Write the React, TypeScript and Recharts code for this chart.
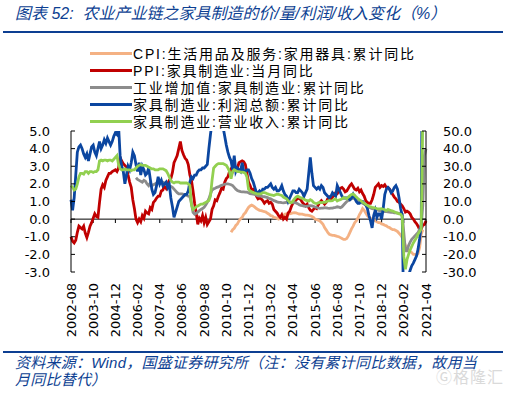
import React from 'react';
import { LineChart, Line, XAxis, YAxis, ReferenceLine } from 'recharts';

// months run from 2002-08 to 2021-04
const START_YEAR = 2002;
const START_MONTH = 8;
const MONTH_COUNT = 225;

const months: string[] = Array.from({ length: MONTH_COUNT }, (_, i) => {
  const t = START_MONTH - 1 + i;
  return `${START_YEAR + Math.floor(t / 12)}-${String((t % 12) + 1).padStart(2, '0')}`;
});

const tickLabels = [
  '2002-08', '2003-10', '2004-12', '2006-02', '2007-04', '2008-06', '2009-08', '2010-10', '2011-12',
  '2013-02', '2014-04', '2015-06', '2016-08', '2017-10', '2018-12', '2020-02', '2021-04',
];

const leftTicks = [-3, -2, -1, 0, 1, 2, 3, 4, 5];
const rightTicks = [-30, -20, -10, 0, 10, 20, 30, 40, 50];

// PPI: 家具制造业: 当月同比 (left axis), from 2002-08
const ppi = [
  -1.0, -1.25, -1.35, -1.2, -0.75,
  -0.4, -0.48, -0.55, -0.4, -0.8, -1.05, -0.75, -0.4, -0.2, 0.05, 0.3, 0.15,
  0.1, 0.95, 1.7, 1.95, 1.8, 2.2, 2.4, 2.6, 2.6, 2.7, 2.75, 2.8,
  2.7, 2.9, 3.5, 3.3, 3.15, 3.05, 2.95, 2.5, 2.1, 1.8, 1.1, 0.6,
  0.0, -0.2, 0.0, -0.15, 0.2, 0.05, 0.45, 0.35, 0.3, 0.65, 0.55, 0.95,
  1.05, 1.2, 1.3, 1.3, 1.6, 1.65, 1.9, 1.75, 2.0, 2.2, 2.3, 2.65,
  3.2, 3.4, 3.6, 4.0, 4.4, 3.9, 3.65, 3.45, 3.35, 3.1, 2.5, 2.2,
  1.6, 0.9, 0.35, -0.3, 0.05, -0.1, 0.2, -0.2, 0.1, -0.3, -0.15, 0.0,
  0.55, 0.75, 1.1, 1.05, 1.3, 1.5, 1.75, 1.7, 2.1, 2.3, 2.4, 2.7,
  2.85, 2.7, 2.9, 2.85, 2.9, 3.2, 3.25, 3.3, 3.25, 3.1, 2.6, 2.1,
  1.9, 1.65, 1.7, 1.6, 1.3, 1.15, 1.2, 1.15, 1.05, 0.9, 1.0, 1.05,
  0.9, 0.95, 0.85, 0.55, 0.45, 0.35, 0.2, 0.1, 0.25, 0.0, 0.1, 0.0,
  0.35, 0.45, 0.7, 0.9, 0.95, 1.1, 1.15, 1.2, 1.1, 0.95, 0.85, 0.75,
  0.85, 0.65, 0.5, 0.45, 0.55, 0.65, 0.6, 0.8, 0.95, 1.05, 0.95, 0.85,
  0.95, 1.15, 1.25, 1.15, 1.25, 1.35, 1.5, 1.45, 1.6, 1.75, 1.8, 1.7,
  1.55, 1.6, 1.75, 1.9, 2.0, 1.85, 1.7, 1.65, 1.75, 1.55, 1.65, 1.45,
  1.3, 1.05, 0.95, 0.9, 0.9, 1.1, 1.4, 1.8, 1.9, 2.0, 1.8, 1.9,
  1.85, 1.95, 1.8, 1.8, 1.7, 1.55, 1.4, 1.25, 1.15, 1.0, 0.95, 0.85,
  0.75, 0.6, 0.4, 0.45, 0.4, 0.3, 0.1, 0.0, -0.15, -0.25, -0.4, -0.6,
  -0.55, -0.35, -0.3, -0.1,
];

// CPI: 生活用品及服务: 家用器具: 累计同比 (left axis), from 2011-01
const cpiStart = '2011-01';
const cpi = [
  -0.75, -0.6, -0.52, -0.36, -0.27, -0.1, 0.02, 0.1, 0.27, 0.36, 0.52, 0.66,
  0.75, 0.8, 0.75, 0.68, 0.6, 0.55, 0.5, 0.48, 0.45, 0.43, 0.4, 0.33,
  0.28, 0.2, 0.18, 0.1, 0.08, 0.05, 0.0, 0.05, 0.1, 0.2, 0.28, 0.29,
  0.3, 0.3, 0.33, 0.35, 0.37, 0.35, 0.32, 0.29, 0.28, 0.28, 0.25, 0.23,
  0.23, 0.21, 0.19, 0.15, 0.1, 0.0, -0.03, -0.06, -0.1, -0.19, -0.29, -0.48,
  -0.61, -0.76, -0.86, -0.9, -0.92, -0.92, -0.95, -0.98, -1.0, -1.05, -1.1, -1.15,
  -1.15, -1.1, -0.95, -0.75, -0.55, -0.4, -0.2, -0.1, 0.05, 0.25, 0.4, 0.6,
  0.5, 0.35, 0.2, 0.1, 0.05, 0.0, -0.05, -0.1, -0.15, -0.2, -0.2, -0.28,
  -0.3, -0.35, -0.38, -0.45, -0.48, -0.55, -0.6, -0.6, -0.65, -0.7, -0.8, -0.9,
  -1.05, -1.2, -1.5, -1.7, -1.75, -1.85, -1.9, -2.0, -2.0, -2.05, -1.95, -1.6,
  -0.85, -0.6,
];

// 工业增加值: 家具制造业: 累计同比 (right axis), from 2006-01
const valueAddStart = '2006-01';
const valueAdd = [
  23.5, 22.5, 22, 21.5, 21, 22, 21.5, 20, 19, 20.5, 19, 19.5,
  20, 20.5, 20.5, 21, 21, 21, 20.5, 19.5, 19, 18.5, 18.5, 18,
  17, 16, 15, 14.3, 14.3, 14.3, 14, 13.8, 13.5, 13, 12.8, 9,
  3.8, 2.8, 3.3, 4, 4.8, 5.5, 6, 6.7, 8, 9.5, 11.5, 14.3,
  16.5, 17.2, 17.5, 18, 18.3, 18.8, 19.2, 19.5, 19.8, 20, 20, 19.8,
  19.5, 19, 18, 17, 16.2, 15.9, 15.6, 15.5, 15.4, 15.3, 15.3, 15,
  14.5, 14.3, 14.2, 14, 13.5, 13.2, 13, 13, 12.8, 12.7, 12.5, 12.2,
  11.8, 11.5, 11, 10.5, 10.2, 9.8, 9.5, 9.5, 9.3, 9.2, 9.4, 9.5,
  9.6, 9.8, 9.6, 9.5, 9.4, 9.2, 8.8, 8.2, 7.8, 7.6, 7.4, 7.2,
  7.2, 7.6, 7.7, 7.5, 7.2, 6.9, 6.6, 6.3, 6.1, 6.2, 6.3, 6.5,
  6.4, 6.2, 6.1, 6.2, 6.3, 6.5, 6.7, 7, 6.8, 6.5, 7, 8,
  9, 10, 10.5, 11, 11.5, 12, 11.5, 11, 10.5, 10, 9.5, 9,
  8.5, 8, 7.3, 6.8, 6.3, 6, 5.8, 5.6, 5.3, 5, 4.8, 4.6,
  4.4, 4.3, 4.2, 4.1, 4, 3.9, 3.8, 3.6, 3.5, 3.4, 3.2, 3,
  2.8, -7.6, -18, -18, -15, -13, -11.5, -10.5, -9.5, -8.5, -7.6, -5.7,
  -3.8, 8, 36, 40,
];

// 家具制造业: 利润总额: 累计同比 (right axis), from 2002-08
const profit = [
  11, 5, 12, 25, 38,
  41, 42, 40, 37, 35, 37, 33, 37, 41, 42, 38, 36,
  40, 44, 40, 42, 45, 43, 46, 44, 42, 44, 47, 49,
  48, 53, 36, 30, 27, 20, 25, 30, 28, 32, 38, 36,
  31, 27, 32, 25, 30, 28, 25, 26, 29, 23, 17, 14,
  15, 19, 24, 20, 22, 19, 20, 21, 18, 20, 12, 7,
  1, 4, 7, 10, 11, 12, 13, 14, 14, 16, 21, 24,
  23, 25, 25, 27, 28, 28, 29, 29, 30, 31, 40, 48,
  55, 65, 70, 72, 68, 62, 58, 52, 47, 42, 38, 35,
  33, 28, 36, 27, 29, 28, 27, 32, 27, 27, 28, 28,
  26, 23, 21, 18, 15, 15, 16, 15, 17, 17, 18, 18,
  19, 20, 18, 17, 18, 16, 16, 17, 19, 16, 14, 13,
  10, 12, 14, 16, 16, 15, 15, 17, 16, 15, 13, 15,
  17, 26, 35, 26, 19, 18, 17, 18, 17, 19, 18, 15,
  14, 13, 12, 13, 15, 14, 13, 19, 17, 15, 13, 12,
  12, 12, 12, 11, 12, 14, 12, 10, 9, 9, 10, 10,
  9, 8, 6, 2, -1, -5, 2, 5, 1, 3, 3, 0,
  6, 14, 17, 18, 17, 15, 16, 18, 19, 17, 12, 6,
  2, -60, -55, -40, -32, -29, -26.5, -25, -23, -21, -17, -11,
  -3, 150, 120, 100,
];

// 家具制造业: 营业收入: 累计同比 (right axis), from 2002-08
const revenue = [
  19, 18, 16.5, 17, 20,
  24, 26, 26, 25.5, 27, 27, 26, 27, 27, 26.5, 27, 27,
  28, 33, 33.5, 33, 33.5, 33.5, 33, 33.5, 33.5, 33, 34, 35,
  36, 31, 28.5, 28, 28, 28.5, 28, 28, 28, 27.5, 28, 28,
  29, 30, 30.5, 31, 30.5, 30.5, 30.5, 30, 29.5, 29, 28.5, 28.5,
  28, 28, 28, 28.5, 28.5, 28.5, 28, 27.5, 26, 24, 22, 21,
  20.5, 21, 21, 21, 20.5, 20.5, 20.5, 20.5, 20.5, 20, 19, 8,
  5.5, 6.2, 7, 7.5, 8, 8.5, 8.5, 9, 9.5, 10, 10.5, 13,
  22, 29, 30, 31, 31.5, 31.5, 31.5, 31.5, 31, 30.5, 29, 27,
  23, 27, 28, 27.5, 27, 27, 26.7, 26.7, 26.5, 26, 24, 17,
  16, 15.5, 15, 14.8, 14.5, 14.3, 14.3, 14.5, 15, 15, 14.8, 14.3,
  14, 13.8, 13.6, 13.4, 13.8, 14.2, 14, 13.7, 13.4, 12.5, 12, 11.5,
  10.5, 9.5, 9.3, 10.2, 11.5, 12.5, 13, 12.5, 12, 11.8, 11.2, 10.8,
  10.5, 10.2, 11, 10.5, 9.5, 9, 8.8, 9.2, 9.5, 9.4, 9.5, 9.5,
  9.8, 10.3, 10.5, 10.4, 10.5, 11.2, 11.5, 10.3, 10.8, 11, 11.5, 12.2,
  12, 11.5, 12.5, 13.3, 14, 14.2, 13.5, 12.5, 11.7, 11, 10.3, 9.6,
  9, 8.3, 7.8, 7.2, 7, 6.7, 6.5, 6.3, 6, 5.8, 5.8, 5.9,
  5.6, 5.3, 4.8, 5.5, 5.2, 4.8, 4.5, 4.2, 3.8, 3.4, 3, 2.8,
  1.5, -21, -28.5, -23, -20, -17.5, -15.5, -13.5, -12, -10.5, -8.5, -7,
  -5.5, 60, 55, 52,
];

const COLORS = {
  cpi: '#F4B183',
  ppi: '#C00000',
  valueAdd: '#8C8C8C',
  profit: '#0B46A0',
  revenue: '#92D050',
};

const legendItems = [
  { key: 'cpi', label: 'CPI:生活用品及服务:家用器具:累计同比' },
  { key: 'ppi', label: 'PPI:家具制造业:当月同比' },
  { key: 'valueAdd', label: '工业增加值:家具制造业:累计同比' },
  { key: 'profit', label: '家具制造业:利润总额:累计同比' },
  { key: 'revenue', label: '家具制造业:营业收入:累计同比' },
];

const cpiOffset = months.indexOf(cpiStart);
const valueAddOffset = months.indexOf(valueAddStart);

const chartData = months.map((month, i) => ({
  month,
  ppi: ppi[i] ?? null,
  cpi: i >= cpiOffset ? cpi[i - cpiOffset] ?? null : null,
  valueAdd: i >= valueAddOffset ? valueAdd[i - valueAddOffset] ?? null : null,
  profit: profit[i] ?? null,
  revenue: revenue[i] ?? null,
}));

const AXIS_FONT = '"DejaVu Sans", Verdana, sans-serif';
const CJK_FONT = '"Liberation Sans", "Noto Sans CJK SC", sans-serif';
const BRAND_BLUE = '#0D3F92';
const LINE_W = 2.8;

const XTick = ({ x, y, payload }: any) => (
  <text
    x={x}
    y={y}
    transform={`rotate(-90, ${x}, ${y})`}
    textAnchor="end"
    dominantBaseline="central"
    fontSize={13}
    fontFamily={AXIS_FONT}
    fill="#000"
  >
    {payload.value}
  </text>
);

export default function App() {
  return (
    <div style={{ position: 'absolute', left: 0, top: 0, width: 506, height: 393, background: '#fff', overflow: 'hidden' }}>
      {/* title */}
      <div
        style={{
          position: 'absolute', left: 15, top: 3, fontFamily: CJK_FONT, fontSize: 16, fontStyle: 'italic',
          color: BRAND_BLUE, whiteSpace: 'pre', lineHeight: '22px',
        }}
      >
        图表 52:  农业产业链之家具制造的价/量/利润/收入变化（%）
      </div>
      <div style={{ position: 'absolute', left: 3, top: 31, width: 500, height: 2, background: BRAND_BLUE }} />

      <div style={{ position: 'absolute', left: 0, top: 0 }}>
        <LineChart width={506} height={393} data={chartData} margin={{ top: 131, right: 30, bottom: 51, left: 26 }}>
          <XAxis
            dataKey="month"
            ticks={tickLabels}
            interval={0}
            axisLine={false}
            tickLine={false}
            tickSize={0}
            tickMargin={11}
            height={70}
            tick={<XTick />}
          />
          <YAxis
            yAxisId="left"
            domain={[-3, 5]}
            ticks={leftTicks}
            interval={0}
            allowDataOverflow
            width={45}
            tickSize={-4}
            tickMargin={25}
            tickFormatter={(v: number) => v.toFixed(1)}
            stroke="#000"
            tick={{ fill: '#000', fontSize: 13, fontFamily: AXIS_FONT }}
          />
          <YAxis
            yAxisId="right"
            orientation="right"
            domain={[-30, 50]}
            ticks={rightTicks}
            interval={0}
            allowDataOverflow
            width={50}
            tickSize={-4}
            tickMargin={21}
            tickFormatter={(v: number) => v.toFixed(1)}
            stroke="#000"
            tick={{ fill: '#000', fontSize: 13, fontFamily: AXIS_FONT }}
          />
          <ReferenceLine yAxisId="left" y={0} stroke="#000" strokeWidth={1} />
          {tickLabels.map((t) => (
            <ReferenceLine
              key={t}
              yAxisId="left"
              segment={[{ x: t, y: 0 }, { x: t, y: -0.22 }]}
              stroke="#000"
              strokeWidth={1}
            />
          ))}
          <Line yAxisId="left" type="linear" dataKey="cpi" stroke={COLORS.cpi} strokeWidth={LINE_W} dot={false} isAnimationActive={false} />
          <Line yAxisId="left" type="linear" dataKey="ppi" stroke={COLORS.ppi} strokeWidth={LINE_W} dot={false} isAnimationActive={false} />
          <Line yAxisId="right" type="linear" dataKey="valueAdd" stroke={COLORS.valueAdd} strokeWidth={LINE_W} dot={false} isAnimationActive={false} />
          <Line yAxisId="right" type="linear" dataKey="profit" stroke={COLORS.profit} strokeWidth={LINE_W} dot={false} isAnimationActive={false} />
          <Line yAxisId="right" type="linear" dataKey="revenue" stroke={COLORS.revenue} strokeWidth={LINE_W} dot={false} isAnimationActive={false} />
        </LineChart>
      </div>

      {/* legend */}
      <div style={{ position: 'absolute', left: 90, top: 45 }}>
        {legendItems.map((item) => (
          <div key={item.key} style={{ display: 'flex', alignItems: 'center', height: 17 }}>
            <span style={{ display: 'inline-block', width: 42, height: 3, background: (COLORS as any)[item.key] }} />
            <span
              style={{
                fontFamily: CJK_FONT, fontSize: 14, letterSpacing: 1.8, lineHeight: '16px',
                color: '#000', whiteSpace: 'nowrap', marginLeft: 1,
              }}
            >
              {item.label}
            </span>
          </div>
        ))}
      </div>

      {/* source */}
      <div style={{ position: 'absolute', left: 3, top: 351, width: 500, height: 2, background: BRAND_BLUE }} />
      <div
        style={{
          position: 'absolute', left: 15, top: 355, fontFamily: CJK_FONT, fontSize: 15, letterSpacing: 0.25,
          fontStyle: 'italic', color: BRAND_BLUE, lineHeight: '16px', whiteSpace: 'nowrap',
        }}
      >
        资料来源：Wind，国盛证券研究所（注：没有累计同比数据，故用当
      </div>
      <div
        style={{
          position: 'absolute', left: 15, top: 372, fontFamily: CJK_FONT, fontSize: 15, letterSpacing: 0.25,
          fontStyle: 'italic', color: BRAND_BLUE, lineHeight: '16px', whiteSpace: 'nowrap',
        }}
      >
        月同比替代）
      </div>
      <div
        style={{
          position: 'absolute', left: 436, top: 369, fontFamily: CJK_FONT, fontSize: 16,
          color: '#dadada', letterSpacing: 1, lineHeight: '18px', whiteSpace: 'nowrap',
        }}
      >
        Ⓖ格隆汇
      </div>
    </div>
  );
}
